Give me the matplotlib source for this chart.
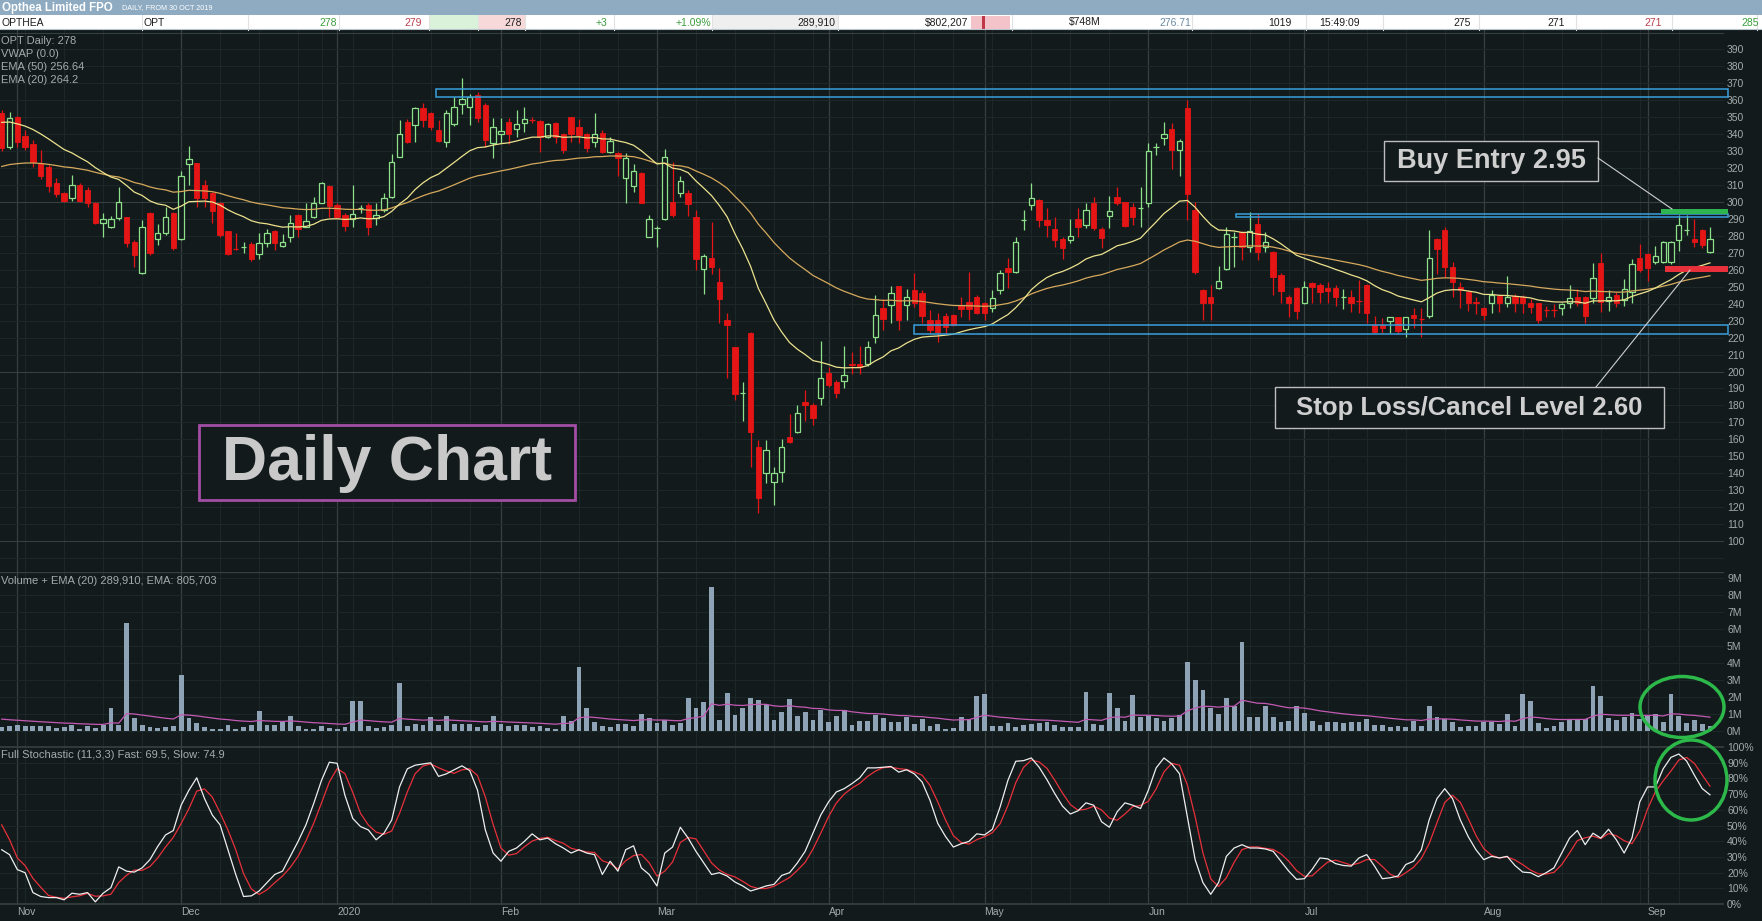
import numpy as np
import pandas as pd
import matplotlib
matplotlib.use("Agg")
import matplotlib.pyplot as plt
from matplotlib.patches import Rectangle, Ellipse
from matplotlib.collections import LineCollection

# ---- OPT daily bars (30 Oct 2019 - 11 Sep 2020) ----
opens = [
    352.7, 332.3, 350.0, 339.0, 334.2, 322.8, 320.5, 311.4, 305.5, 302.2,
    310.0, 307.0, 299.6, 287.8, 285.0, 290.8, 291.0, 276.6, 257.9, 293.7,
    278.0, 281.9, 293.7, 278.0, 322.4, 322.8, 310.0, 305.5, 299.6, 283.1,
    272.2, 273.6, 275.2, 269.3, 276.0, 283.1, 274.0, 279.2, 292.3, 285.4,
    291.0, 299.6, 309.4, 298.2, 292.3, 289.8, 296.3, 298.2, 290.4, 295.3,
    302.8, 326.8, 347.4, 345.4, 355.3, 352.7, 342.5, 335.6, 346.0, 358.0,
    356.3, 363.0, 357.3, 335.0, 340.1, 347.4, 342.9, 346.8, 348.6, 348.0,
    338.2, 346.8, 340.1, 350.0, 344.5, 340.1, 335.6, 340.9, 329.7, 329.1,
    314.0, 309.5, 317.3, 279.6, 284.9, 289.8, 300.2, 305.1, 305.5, 291.3,
    260.3, 266.8, 253.0, 230.4, 214.3, 187.4, 222.9, 155.6, 139.9, 135.0,
    140.9, 161.5, 164.5, 182.2, 180.2, 184.2, 199.3, 194.0, 194.6, 204.5,
    204.4, 204.4, 220.2, 237.3, 239.2, 250.4, 239.2, 248.1, 246.1, 230.4,
    230.4, 232.7, 233.3, 239.2, 241.2, 243.8, 240.2, 237.3, 248.1, 260.9,
    258.9, 289.4, 298.2, 301.2, 289.4, 283.9, 278.0, 277.6, 289.8, 286.4,
    299.6, 283.9, 291.7, 302.8, 300.2, 296.9, 296.5, 299.6, 332.6, 337.6,
    342.9, 330.7, 355.3, 295.3, 248.1, 244.1, 249.1, 260.3, 279.5, 282.5,
    273.7, 287.0, 273.7, 270.7, 256.9, 244.1, 249.1, 240.2, 252.4, 251.1,
    249.1, 249.1, 243.7, 243.8, 241.9, 251.0, 227.4, 227.4, 230.0, 231.9,
    224.9, 233.3, 230.9, 232.7, 278.0, 283.5, 261.9, 250.0, 247.1, 241.2,
    237.3, 240.2, 244.5, 240.2, 244.5, 243.8, 240.2, 240.2, 236.4, 236.4,
    237.3, 240.2, 243.8, 243.8, 243.2, 264.2, 241.8, 245.1, 242.2, 247.1,
    266.8, 269.3, 264.8, 264.8, 264.8, 277.6, 283.4, 278.0, 283.5, 270.7,
]
highs = [
    354.5, 353.3, 350.5, 342.5, 336.6, 330.7, 321.8, 314.0, 306.1, 316.0,
    311.0, 309.0, 300.2, 293.3, 291.7, 309.0, 291.3, 277.6, 289.4, 294.3,
    287.0, 296.9, 294.3, 318.5, 333.0, 323.2, 313.0, 306.1, 300.2, 283.1,
    281.9, 276.6, 276.6, 281.9, 283.9, 283.5, 281.1, 292.3, 292.9, 299.2,
    303.1, 312.0, 310.0, 299.2, 293.3, 310.0, 298.2, 299.2, 299.2, 305.1,
    328.3, 348.4, 348.8, 356.3, 358.2, 353.3, 348.4, 354.3, 362.0, 373.0,
    364.0, 365.0, 358.5, 349.4, 349.4, 349.4, 354.3, 356.3, 350.4, 348.4,
    346.8, 347.4, 340.5, 350.4, 348.8, 340.5, 352.7, 342.5, 338.6, 329.7,
    328.7, 322.4, 317.9, 292.3, 285.9, 331.1, 323.8, 315.4, 307.1, 295.3,
    269.3, 288.4, 260.9, 234.3, 214.7, 194.0, 223.5, 159.6, 159.6, 143.8,
    160.0, 174.9, 180.2, 189.1, 181.2, 218.2, 202.9, 195.0, 215.0, 211.7,
    215.0, 218.2, 245.1, 242.6, 250.4, 250.4, 248.5, 257.9, 248.1, 236.3,
    234.7, 234.3, 233.9, 244.1, 258.9, 245.1, 241.2, 248.1, 259.9, 266.8,
    279.6, 295.3, 311.0, 301.6, 296.3, 291.3, 279.6, 289.8, 296.3, 299.6,
    302.8, 285.5, 303.5, 308.7, 300.2, 299.2, 309.1, 335.0, 335.0, 347.4,
    346.4, 337.0, 360.2, 300.2, 248.5, 251.0, 262.2, 285.1, 282.5, 283.1,
    294.3, 292.9, 282.5, 271.3, 257.9, 245.1, 250.0, 253.6, 253.0, 252.0,
    253.0, 251.0, 248.5, 248.1, 254.0, 251.6, 232.7, 231.4, 232.3, 232.3,
    232.3, 237.3, 237.3, 283.5, 278.6, 285.5, 264.8, 253.0, 248.1, 244.1,
    238.3, 248.1, 245.1, 256.4, 245.7, 245.1, 242.6, 240.6, 238.6, 239.8,
    240.6, 251.0, 248.5, 244.5, 263.8, 269.7, 248.1, 247.1, 254.4, 266.2,
    275.2, 269.7, 274.0, 277.2, 277.2, 292.3, 292.3, 289.8, 283.9, 285.0,
]
lows = [
    330.0, 331.0, 332.6, 330.7, 320.9, 313.4, 306.1, 302.8, 300.2, 300.8,
    300.2, 296.9, 287.0, 279.5, 284.5, 289.4, 273.6, 261.8, 257.5, 268.7,
    274.6, 280.5, 271.7, 277.6, 310.0, 297.2, 297.2, 287.8, 279.5, 268.7,
    271.7, 269.7, 265.4, 266.2, 273.2, 271.7, 273.6, 276.6, 279.5, 285.0,
    290.4, 299.2, 291.3, 290.4, 283.1, 285.4, 293.7, 280.5, 286.4, 294.3,
    302.2, 326.4, 335.0, 335.6, 344.1, 342.5, 335.6, 332.6, 345.0, 352.0,
    345.5, 347.0, 332.6, 325.8, 335.0, 334.2, 338.6, 341.5, 346.4, 329.7,
    337.6, 335.0, 328.7, 335.6, 335.0, 329.7, 332.6, 329.1, 329.1, 315.4,
    299.2, 306.1, 299.2, 279.2, 273.3, 289.4, 291.0, 303.2, 291.7, 259.9,
    245.7, 257.5, 228.8, 196.0, 183.2, 171.0, 143.8, 116.3, 134.0, 121.2,
    135.0, 157.6, 163.5, 171.0, 168.4, 180.2, 191.0, 184.2, 190.0, 198.5,
    198.5, 203.2, 217.0, 224.5, 228.8, 224.5, 230.4, 238.2, 228.4, 222.9,
    217.6, 222.5, 226.8, 232.3, 230.4, 233.9, 230.4, 235.3, 245.7, 249.1,
    257.9, 283.5, 295.3, 285.1, 279.6, 273.7, 266.2, 275.6, 279.6, 284.5,
    283.5, 272.7, 284.5, 298.2, 285.1, 286.4, 285.1, 297.3, 327.7, 333.6,
    319.3, 315.4, 289.4, 257.5, 230.4, 230.4, 248.5, 259.9, 261.9, 265.8,
    270.7, 265.8, 270.7, 245.1, 240.2, 232.3, 230.8, 239.8, 240.2, 240.2,
    240.2, 238.6, 236.7, 235.3, 234.7, 228.4, 222.5, 222.9, 222.9, 222.9,
    220.2, 225.5, 220.6, 231.4, 257.5, 256.0, 244.1, 237.3, 235.9, 233.9,
    230.4, 234.7, 235.3, 238.3, 235.3, 234.3, 234.7, 228.4, 232.0, 232.0,
    233.3, 237.3, 238.6, 228.4, 240.2, 235.3, 235.9, 237.9, 238.6, 240.6,
    258.9, 253.6, 263.4, 263.8, 263.4, 271.3, 280.5, 273.3, 272.7, 270.1,
]
closes = [
    331.7, 349.4, 335.6, 332.3, 323.8, 315.3, 309.4, 304.7, 300.8, 310.0,
    300.8, 299.6, 287.4, 289.8, 289.8, 299.8, 276.0, 268.7, 285.0, 270.1,
    281.9, 291.0, 272.7, 315.3, 325.2, 302.2, 302.2, 294.9, 280.5, 269.3,
    271.9, 274.0, 266.2, 276.0, 281.9, 276.0, 276.4, 287.8, 283.9, 289.0,
    299.2, 311.0, 297.6, 291.3, 285.8, 292.7, 296.5, 285.0, 292.3, 302.2,
    323.8, 340.1, 335.6, 355.3, 348.4, 344.1, 336.2, 352.3, 356.3, 360.5,
    362.0, 349.4, 336.6, 344.1, 342.1, 340.1, 346.0, 348.8, 348.4, 338.2,
    346.0, 338.6, 330.7, 340.1, 339.5, 331.7, 340.1, 329.7, 336.2, 325.8,
    325.8, 318.5, 299.6, 289.8, 285.1, 326.8, 292.3, 312.6, 298.8, 266.2,
    268.1, 261.9, 242.6, 227.5, 186.7, 187.6, 164.5, 125.2, 153.7, 139.9,
    155.2, 158.6, 175.7, 180.2, 172.4, 196.0, 192.0, 187.5, 198.0, 203.6,
    202.4, 214.6, 233.3, 230.8, 246.1, 230.4, 243.8, 240.2, 232.7, 224.5,
    223.5, 226.1, 227.4, 236.7, 236.7, 234.7, 234.7, 243.2, 257.9, 258.9,
    276.6, 289.8, 302.2, 289.4, 286.4, 277.6, 272.7, 280.0, 285.4, 295.3,
    284.5, 278.6, 294.9, 299.2, 285.9, 291.0, 296.7, 330.1, 332.7, 340.1,
    330.7, 336.2, 304.7, 258.9, 240.2, 240.2, 253.6, 281.1, 279.7, 273.7,
    283.1, 270.7, 276.6, 256.0, 247.7, 240.2, 235.9, 250.1, 250.1, 247.1,
    247.7, 243.8, 243.9, 240.6, 241.7, 234.7, 223.5, 225.5, 231.9, 224.1,
    231.9, 231.4, 230.7, 266.8, 272.1, 261.9, 253.0, 248.1, 240.2, 240.2,
    233.3, 245.1, 240.2, 243.8, 240.2, 240.2, 237.9, 230.4, 236.2, 236.2,
    239.8, 243.2, 240.2, 232.7, 255.0, 241.2, 243.8, 240.2, 248.5, 263.4,
    259.9, 260.9, 268.1, 276.6, 276.6, 286.4, 283.6, 276.6, 274.6, 278.0,
]
# volume in millions of shares
volume_m = [
    0.26, 0.31, 0.35, 0.29, 0.29, 0.31, 0.29, 0.20, 0.24, 0.35,
    0.14, 0.29, 0.20, 0.33, 1.36, 0.33, 6.37, 0.77, 0.33, 0.24,
    0.20, 0.22, 0.29, 3.30, 0.77, 0.45, 0.24, 0.14, 0.14, 0.35,
    0.12, 0.24, 0.35, 1.18, 0.35, 0.35, 0.51, 0.88, 0.29, 0.14,
    0.14, 0.29, 0.18, 0.14, 0.24, 1.77, 1.77, 0.29, 0.18, 0.24,
    0.35, 2.83, 0.29, 0.41, 0.35, 0.83, 0.35, 0.88, 0.41, 0.41,
    0.41, 0.24, 0.35, 0.88, 0.41, 0.29, 0.35, 0.35, 0.24, 0.29,
    0.18, 0.14, 0.88, 0.59, 3.77, 1.36, 0.53, 0.29, 0.24, 0.41,
    0.41, 0.29, 1.00, 0.77, 0.47, 0.65, 0.35, 0.47, 1.95, 1.36,
    1.71, 8.49, 0.65, 2.24, 0.94, 1.36, 1.95, 1.83, 1.53, 0.65,
    1.12, 1.89, 0.88, 1.12, 0.65, 1.24, 0.53, 0.88, 1.24, 0.35,
    0.59, 0.59, 0.94, 0.77, 0.53, 0.53, 0.83, 0.41, 0.71, 0.29,
    0.41, 0.12, 0.18, 0.83, 0.71, 2.06, 2.18, 0.29, 0.29, 0.47,
    0.24, 0.35, 0.41, 0.47, 0.53, 0.35, 0.24, 0.24, 0.24, 2.30,
    0.41, 0.35, 2.24, 1.36, 0.59, 2.12, 0.83, 0.94, 0.77, 0.59,
    0.77, 0.94, 4.07, 3.01, 2.42, 1.36, 1.00, 1.95, 1.47, 5.25,
    0.83, 0.83, 1.47, 0.83, 0.53, 0.59, 1.47, 1.06, 0.59, 0.35,
    0.53, 0.53, 0.47, 0.53, 0.53, 0.71, 0.35, 0.35, 0.24, 0.29,
    0.24, 0.59, 0.29, 1.47, 0.83, 0.71, 0.53, 0.24, 0.29, 0.29,
    0.53, 0.53, 0.41, 1.00, 0.29, 2.18, 1.77, 0.47, 0.18, 0.29,
    0.53, 0.71, 0.71, 0.71, 2.65, 2.06, 0.77, 0.65, 0.83, 1.06,
    0.71, 0.94, 1.00, 0.53, 2.18, 0.88, 0.47, 0.65, 0.41, 0.29,
]
# full stochastic (11,3,3), fast line in %
stoch_fast = [
    34.6, 31.5, 22.0, 20.0, 7.4, 4.9, 4.2, 4.2, 2.8, 7.0,
    6.3, 7.4, 1.5, 7.0, 10.5, 23.7, 21.0, 20.4, 23.1, 28.3,
    36.7, 44.0, 46.8, 62.9, 72.4, 80.3, 67.1, 56.6, 50.4, 34.6,
    18.9, 4.9, 5.3, 8.4, 13.7, 18.9, 21.0, 30.4, 39.9, 50.4,
    64.0, 78.7, 90.2, 89.5, 69.2, 54.5, 49.3, 47.2, 40.9, 45.1,
    53.5, 74.5, 86.0, 88.3, 89.1, 89.8, 81.2, 82.8, 85.4, 87.9,
    84.9, 72.4, 47.2, 32.5, 27.3, 33.6, 35.7, 39.9, 44.7, 40.9,
    42.0, 38.4, 35.7, 32.5, 34.6, 32.5, 31.5, 18.9, 27.3, 21.0,
    34.6, 37.1, 23.1, 18.9, 11.6, 32.5, 36.3, 48.9, 42.0, 33.6,
    26.2, 18.9, 20.0, 17.9, 14.1, 11.6, 8.4, 9.9, 11.6, 12.6,
    18.3, 20.0, 26.2, 33.6, 45.1, 56.6, 65.0, 71.3, 73.4, 76.6,
    80.3, 86.6, 86.6, 87.0, 87.5, 83.9, 85.4, 82.8, 77.6, 66.1,
    51.4, 43.0, 36.3, 38.4, 39.9, 44.7, 44.0, 47.6, 61.9, 78.7,
    90.8, 91.2, 92.9, 87.0, 79.1, 70.3, 62.3, 57.3, 59.4, 64.4,
    62.9, 52.4, 48.9, 58.7, 64.4, 62.9, 60.8, 72.4, 86.6, 92.9,
    89.1, 82.8, 55.6, 28.3, 13.7, 6.3, 13.7, 30.4, 35.7, 37.8,
    35.7, 35.7, 35.1, 33.6, 27.3, 21.0, 15.8, 16.2, 22.1, 29.4,
    28.8, 25.8, 24.6, 24.2, 29.4, 31.5, 24.2, 16.2, 16.8, 17.9,
    25.2, 27.3, 34.6, 53.5, 67.1, 73.4, 67.1, 53.5, 43.0, 34.6,
    28.3, 30.4, 29.4, 30.4, 24.6, 20.4, 20.0, 17.5, 20.0, 23.1,
    32.5, 42.0, 46.8, 37.8, 45.1, 42.0, 47.6, 40.9, 32.5, 42.0,
    65.0, 74.5, 74.5, 86.0, 93.3, 95.4, 91.0, 82.0, 73.5, 69.5,
]
slow_first = [50.4, 41.0]          # slow line on the first two bars
ema20_start, ema50_start = 347.0, 321.0
vol_ema_start = 0.70

# support / resistance zones: (low, high, first bar)
zones = [(361.7, 366.5, 55.7), (291.0, 292.8, 158.3), (221.9, 227.4, 116.9)]
buy_level = (293.0, 296.0)
stop_level = (259.0, 262.0)

# ASX holidays plus the June trading halt
no_trade = ["2019-12-25", "2019-12-26", "2020-01-01", "2020-01-27",
            "2020-04-10", "2020-04-13", "2020-06-08", "2020-06-11"]
month_names = {1: "2020"}

# legend texts as shown on the chart
price_legend = ["OPT Daily: 278", "VWAP (0.0)", "EMA (50) 256.64", "EMA (20) 264.2"]
volume_legend = "Volume + EMA (20) 289,910, EMA: 805,703"
stoch_legend = "Full Stochastic (11,3,3) Fast: 69.5, Slow: 74.9"

dates = pd.bdate_range("2019-10-30", "2020-09-11")
dates = dates[~dates.isin(pd.to_datetime(no_trade))]
n = len(closes)
x = np.arange(n)

# ---- colours ----
BG = "#121a1c"
GRID = "#1c2729"
GRID_M = "#36413f"
UP = "#8ee08a"
DN = "#e51515"
TXT = "#a3abad"

W, H = 1762, 921
plt.rcParams["font.family"] = ["Liberation Sans", "DejaVu Sans"]
fig = plt.figure(figsize=(W / 100, H / 100), dpi=100, facecolor=BG)


def px(x0, y0, x1, y1):
    return [x0 / W, 1 - y1 / H, (x1 - x0) / W, (y1 - y0) / H]


ax_p = fig.add_axes(px(0, 30, 1724, 572))
ax_v = fig.add_axes(px(0, 572, 1724, 746), sharex=ax_p)
ax_s = fig.add_axes(px(0, 746, 1724, 905), sharex=ax_p)

month_idx = [i for i in range(1, n) if dates[i].month != dates[i - 1].month]
week_idx = [i for i in range(1, n) if dates[i].weekday() < dates[i - 1].weekday()]

for ax in (ax_p, ax_v, ax_s):
    ax.set_facecolor(BG)
    for s in ax.spines.values():
        s.set_visible(False)
    for w in week_idx:
        ax.axvline(w, color=GRID, lw=0.8, zorder=0)
    for m in month_idx:
        ax.axvline(m, color=GRID_M, lw=0.9, zorder=0)
    ax.yaxis.tick_right()
    ax.tick_params(axis="y", length=0, pad=2.2, labelsize=7.5, labelcolor=TXT)
    ax.tick_params(axis="x", length=0)

ax_p.set_xlim(-0.22, 220.8)

# ---- price panel ----
for v in range(90, 401, 10):
    ax_p.axhline(v, color=GRID_M if v % 100 == 0 else GRID, lw=0.8, zorder=0)

wick_up, wick_dn, cross_up, cross_dn = [], [], [], []
bw = 0.68
for i in range(n):
    o, h, l, c = opens[i], highs[i], lows[i], closes[i]
    green = c >= o
    lo_b, hi_b = min(o, c), max(o, c)
    if hi_b - lo_b < 0.6:
        (cross_up if green else cross_dn).append([(i - bw / 2, o), (i + bw / 2, o)])
        (wick_up if green else wick_dn).append([(i, l), (i, h)])
        continue
    if green:
        wick_up.append([(i, l), (i, lo_b)])
        wick_up.append([(i, hi_b), (i, h)])
        ax_p.add_patch(Rectangle((i - bw / 2, lo_b), bw, hi_b - lo_b,
                                 facecolor=BG, edgecolor=UP, lw=0.9, zorder=3))
    else:
        wick_dn.append([(i, l), (i, h)])
        ax_p.add_patch(Rectangle((i - bw / 2, lo_b), bw, hi_b - lo_b,
                                 facecolor=DN, edgecolor=DN, lw=0.6, zorder=3))
ax_p.add_collection(LineCollection(wick_up + cross_up, colors=UP, lw=0.9, zorder=2))
ax_p.add_collection(LineCollection(wick_dn + cross_dn, colors=DN, lw=0.9, zorder=2))


def ema(values, span, start):
    a = 2.0 / (span + 1)
    out = [start]
    for v in values[1:]:
        out.append(a * v + (1 - a) * out[-1])
    return np.array(out)


ema20 = ema(closes, 20, ema20_start)
ema50 = ema(closes, 50, ema50_start)
ax_p.plot(x, ema50, color="#d6a95c", lw=0.9, zorder=4)
ax_p.plot(x, ema20, color="#ece28e", lw=0.9, zorder=4)

for lo, hi, x0 in zones:
    ax_p.add_patch(Rectangle((x0, lo), 221.3 - x0, hi - lo, fill=False,
                             edgecolor="#3aa0dc", lw=1.1, zorder=5, clip_on=False))
ax_p.add_patch(Rectangle((212.7, buy_level[0]), 8.6, buy_level[1] - buy_level[0],
                         facecolor="#2fb452", edgecolor="none", zorder=6, clip_on=False))
ax_p.add_patch(Rectangle((213.2, stop_level[0]), 8.1, stop_level[1] - stop_level[0],
                         facecolor="#e8303a", edgecolor="none", zorder=6, clip_on=False))

ax_p.set_ylim(81.74, 401.5)
ax_p.set_yticks(range(100, 391, 10))
ax_p.tick_params(labelbottom=False)

# ---- volume panel ----
for v in range(0, 10):
    ax_v.axhline(v, color=GRID, lw=0.8, zorder=0)
ax_v.axhline(9.38, color=GRID_M, lw=1.0)
ax_v.bar(x, volume_m, width=0.62, color="#8ea3b5", zorder=2)
vol_ema = ema(volume_m, 20, vol_ema_start)
ax_v.plot(x, vol_ema, color="#c45ab4", lw=0.9, zorder=3)
ax_v.set_ylim(-0.885, 9.38)
ax_v.set_yticks(range(0, 10))
ax_v.set_yticklabels([f"{v}M" for v in range(0, 10)])
ax_v.tick_params(labelbottom=False)

# ---- stochastic panel ----
for v in range(10, 100, 10):
    ax_s.axhline(v, color=GRID, lw=0.8, zorder=0)
ax_s.axhline(100, color=GRID_M, lw=1.2)
ax_s.axhline(0, color=GRID_M, lw=1.2)
slow = pd.Series(stoch_fast).rolling(3).mean().to_numpy()
slow[:2] = slow_first
ax_s.plot(x, slow, color="#e8303a", lw=0.9, zorder=3)
ax_s.plot(x, stoch_fast, color="#eeeeee", lw=0.9, zorder=4)
ax_s.set_ylim(-0.5, 100.5)
ax_s.set_yticks(range(0, 101, 10))
ax_s.set_yticklabels([f"{v}%" for v in range(0, 101, 10)])
ax_s.set_xticks(month_idx)
ax_s.set_xticklabels([month_names.get(dates[m].month, dates[m].strftime("%b")) for m in month_idx],
                     ha="left")
ax_s.tick_params(axis="x", pad=1.5, labelsize=7.5, labelcolor=TXT)

# ---- overlay in pixel coordinates: header, labels, annotations ----
ov = fig.add_axes([0, 0, 1, 1], zorder=10)
ov.set_xlim(0, W)
ov.set_ylim(H, 0)
ov.axis("off")
ov.patch.set_alpha(0)

ov.add_patch(Rectangle((0, 0), W, 15, facecolor="#8eabc2", edgecolor="none"))
ov.text(2, 7.5, "Opthea Limited FPO", color="white", fontsize=8.3, fontweight="bold", va="center")
ov.text(122, 8, "DAILY, FROM 30 OCT 2019", color="white", fontsize=5.2, va="center")
ov.add_patch(Rectangle((0, 15), W, 15, facecolor="white", edgecolor="none"))
ov.add_patch(Rectangle((429, 15), 49, 15, facecolor="#d9f2d9", edgecolor="none"))
ov.add_patch(Rectangle((478, 15), 47, 15, facecolor="#f7d9d9", edgecolor="none"))
ov.add_patch(Rectangle((712, 15), 126, 15, facecolor="#efefef", edgecolor="none"))
ov.add_patch(Rectangle((971, 16), 39, 13, facecolor="#f3c3c9", edgecolor="none"))
ov.add_patch(Rectangle((982, 16), 3, 13, facecolor="#c03848", edgecolor="none"))
for sx in [142, 248, 339, 429, 478, 525, 614, 712, 838, 1012, 1192, 1306, 1383,
           1479, 1576, 1672, 1757]:
    ov.plot([sx, sx], [15, 30], color="#e2e2e2", lw=0.8)
ov.plot([0, W], [29.5, 29.5], color="#b8c4cc", lw=0.8)

DARK = "#1e1e1e"
GRN = "#3c9d3c"
RED = "#b8404e"
cells = [(1, "OPTHEA", DARK, "left"), (143, "OPT", DARK, "left"),
         (337, "278", GRN, "right"), (422, "279", RED, "right"),
         (522, "278", DARK, "right"), (607, "+3", GRN, "right"),
         (711, "+1.09%", GRN, "right"), (835, "289,910", DARK, "right"),
         (968, "$802,207", DARK, "right"), (1101, "$748M", DARK, "right"),
         (1191, "276.71", "#6b8aa3", "right"), (1292, "1019", DARK, "right"),
         (1319, "15:49:09", DARK, "left"), (1471, "275", DARK, "right"),
         (1565, "271", DARK, "right"), (1662, "271", RED, "right"),
         (1759, "285", GRN, "right")]
for cx, t, col, ha in cells:
    ov.text(cx, 22.5, t, color=col, fontsize=7.5, ha=ha, va="center")

for k, t in enumerate(price_legend):
    ov.text(1, 40.5 + 13.3 * k, t, color=TXT, fontsize=8, va="center")
ov.text(1, 581, volume_legend, color=TXT, fontsize=8, va="center")
ov.text(1, 755, stoch_legend, color=TXT, fontsize=8, va="center")

ov.add_patch(Rectangle((199, 425), 376, 75, facecolor=BG, edgecolor="#a24ea4", lw=2))
ov.text(387, 463, "Daily Chart", fontsize=45, fontweight="bold",
        color="#c9c9c9", ha="center", va="center")

ov.add_patch(Rectangle((1384, 141), 214, 40, facecolor=BG, edgecolor="#bdbdbd", lw=1))
ov.text(1491, 161.5, "Buy Entry 2.95", fontsize=19.5, fontweight="bold",
        color="#cfcfcf", ha="center", va="center")
ov.plot([1598, 1672], [158, 209], color="#cfcfcf", lw=0.8)

ov.add_patch(Rectangle((1275, 387), 389, 41, facecolor=BG, edgecolor="#bdbdbd", lw=1))
ov.text(1469.5, 408, "Stop Loss/Cancel Level 2.60", fontsize=18.5,
        fontweight="bold", color="#cfcfcf", ha="center", va="center")
ov.plot([1596, 1690], [387, 270], color="#cfcfcf", lw=0.8)

ov.add_patch(Ellipse((1682, 707), 84, 61, fill=False, edgecolor="#2db84a", lw=2.5))
ov.add_patch(Ellipse((1691, 780), 72, 80, fill=False, edgecolor="#2db84a", lw=2.5))

fig.savefig("out.png", dpi=100, facecolor=BG)
